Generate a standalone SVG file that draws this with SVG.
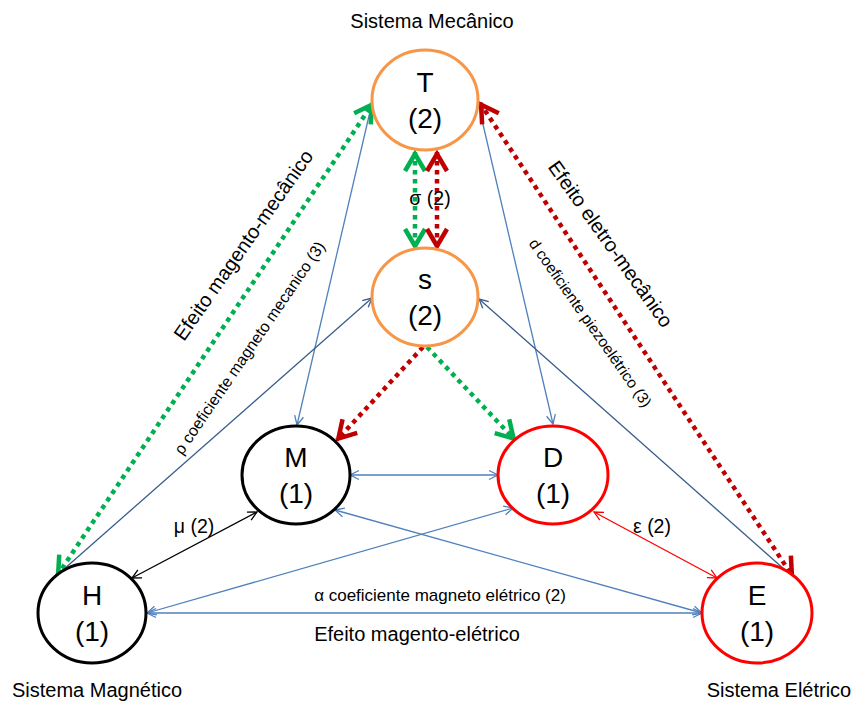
<svg xmlns="http://www.w3.org/2000/svg" width="854" height="701" viewBox="0 0 854 701">
<defs>
<style>
text{font-family:"Liberation Sans",Arial,sans-serif;fill:#000}
.node{fill:#fff;stroke-width:3}
.org{stroke:#F79646}
.blk{stroke:#000}
.red{stroke:#FF0000}
.nl{font-size:28px;text-anchor:middle}
.sys{font-size:20px;text-anchor:middle}
.el{font-size:19.5px;text-anchor:middle}
.thin{fill:none;stroke-width:1.3}
.dot{fill:none;stroke-width:4.5;stroke-dasharray:4.5 4.5}
</style>
<marker id="aB" viewBox="-12 -7 14 14" markerWidth="14" markerHeight="14" refX="0" refY="0" orient="auto-start-reverse" markerUnits="userSpaceOnUse"><path d="M-9,-4.5 L0,0 L-9,4.5" fill="none" stroke="#4F81BD" stroke-width="1.3"/></marker>
<marker id="aD" viewBox="-12 -7 14 14" markerWidth="14" markerHeight="14" refX="0" refY="0" orient="auto-start-reverse" markerUnits="userSpaceOnUse"><path d="M-9,-4.5 L0,0 L-9,4.5" fill="none" stroke="#385D8A" stroke-width="1.3"/></marker>
<marker id="aK" viewBox="-12 -7 14 14" markerWidth="14" markerHeight="14" refX="0" refY="0" orient="auto-start-reverse" markerUnits="userSpaceOnUse"><path d="M-9,-4.5 L0,0 L-9,4.5" fill="none" stroke="#000" stroke-width="1.3"/></marker>
<marker id="aR" viewBox="-12 -7 14 14" markerWidth="14" markerHeight="14" refX="0" refY="0" orient="auto-start-reverse" markerUnits="userSpaceOnUse"><path d="M-9,-4.5 L0,0 L-9,4.5" fill="none" stroke="#FF0000" stroke-width="1.3"/></marker>
<marker id="gG" viewBox="-24 -16 28 32" markerWidth="28" markerHeight="32" refX="0" refY="0" orient="auto-start-reverse" markerUnits="userSpaceOnUse"><path d="M-19,-10 L-2,0 L-19,10" fill="none" stroke="#00B050" stroke-width="4.5" stroke-linejoin="miter" stroke-dasharray="none"/></marker>
<marker id="gR" viewBox="-24 -16 28 32" markerWidth="28" markerHeight="32" refX="0" refY="0" orient="auto-start-reverse" markerUnits="userSpaceOnUse"><path d="M-19,-10 L-2,0 L-19,10" fill="none" stroke="#C00000" stroke-width="4.5" stroke-linejoin="miter" stroke-dasharray="none"/></marker>
</defs>
<rect width="854" height="701" fill="#fff"/>

<g id="connectors">
<line class="thin" stroke="#4F81BD" x1="372" y1="103" x2="297" y2="425" marker-start="url(#aB)" marker-end="url(#aB)"/>
<line class="thin" stroke="#4F81BD" x1="478" y1="103" x2="553" y2="424" marker-start="url(#aB)" marker-end="url(#aB)"/>
<line class="thin" stroke="#385D8A" x1="55" y1="577" x2="372" y2="298" marker-end="url(#aD)"/>
<line class="thin" stroke="#385D8A" x1="793" y1="577" x2="479" y2="299" marker-end="url(#aD)"/>
<line class="thin" stroke="#4F81BD" x1="350" y1="475" x2="498" y2="475" marker-start="url(#aB)" marker-end="url(#aB)"/>
<line class="thin" stroke="#4F81BD" x1="147" y1="613" x2="702" y2="613" marker-start="url(#aB)" marker-end="url(#aB)"/>
<line class="thin" stroke="#4F81BD" x1="147" y1="613" x2="513" y2="508" marker-start="url(#aB)" marker-end="url(#aB)"/>
<line class="thin" stroke="#4F81BD" x1="335" y1="510" x2="702" y2="613" marker-start="url(#aB)" marker-end="url(#aB)"/>
<line class="thin" stroke="#000" x1="132" y1="578" x2="257" y2="512" marker-start="url(#aK)" marker-end="url(#aK)"/>
<line class="thin" stroke="#FF0000" x1="594" y1="512" x2="717" y2="578" marker-start="url(#aR)" marker-end="url(#aR)"/>

<line class="dot" stroke="#00B050" x1="57" y1="576" x2="373" y2="103" marker-start="url(#gG)" marker-end="url(#gG)"/>
<line class="dot" stroke="#C00000" x1="480" y1="103" x2="793" y2="577" marker-start="url(#gR)" marker-end="url(#gR)"/>
<line class="dot" stroke="#00B050" x1="415" y1="152" x2="415" y2="248" marker-start="url(#gG)" marker-end="url(#gG)"/>
<line class="dot" stroke="#C00000" x1="437" y1="152" x2="437" y2="248" marker-start="url(#gR)" marker-end="url(#gR)"/>
<line class="dot" stroke="#C00000" x1="423" y1="347" x2="337" y2="440" marker-end="url(#gR)"/>
<line class="dot" stroke="#00B050" x1="427" y1="347" x2="515" y2="440" marker-end="url(#gG)"/>

<text class="el" x="430" y="205">σ (2)</text>
<text class="el" x="194" y="533">μ (2)</text>
<text class="el" x="652" y="533">ε (2)</text>
<text style="font-size:17px;text-anchor:middle" x="440" y="601">α coeficiente magneto elétrico (2)</text>
<text style="font-size:20px;text-anchor:middle" x="417" y="641">Efeito magento-elétrico</text>
<text style="font-size:20px;text-anchor:middle" transform="translate(249,249) rotate(-55)">Efeito magento-mecânico</text>
<text style="font-size:16px;text-anchor:middle" transform="translate(254,351) rotate(-55.6)">ρ coeficiente magneto mecanico (3)</text>
<text style="font-size:20px;text-anchor:middle" transform="translate(605,248) rotate(54.5)">Efeito eletro-mecânico</text>
<text style="font-size:15.5px;text-anchor:middle" transform="translate(586,326) rotate(55)">d coeficiente piezoelétrico (3)</text>
</g>

<g id="node-T">
<ellipse class="node org" cx="425" cy="100" rx="53" ry="50"/>
<text class="nl" x="425" y="92">T</text>
<text class="nl" x="425" y="128">(2)</text>
</g>
<g id="node-s">
<ellipse class="node org" cx="425" cy="297" rx="53" ry="49"/>
<text class="nl" x="425" y="289">s</text>
<text class="nl" x="425" y="325">(2)</text>
</g>
<g id="node-M">
<ellipse class="node blk" cx="296" cy="475" rx="54" ry="49"/>
<text class="nl" x="296" y="467">M</text>
<text class="nl" x="296" y="503">(1)</text>
</g>
<g id="node-D">
<ellipse class="node red" cx="553" cy="475" rx="55" ry="49"/>
<text class="nl" x="553" y="467">D</text>
<text class="nl" x="553" y="503">(1)</text>
</g>
<g id="node-H">
<ellipse class="node blk" cx="92" cy="613" rx="54" ry="50"/>
<text class="nl" x="92" y="605">H</text>
<text class="nl" x="92" y="641">(1)</text>
</g>
<g id="node-E">
<ellipse class="node red" cx="757" cy="613" rx="55" ry="50"/>
<text class="nl" x="757" y="605">E</text>
<text class="nl" x="757" y="641">(1)</text>
</g>

<g id="system-labels">
<text class="sys" x="432" y="28">Sistema Mecânico</text>
<text class="sys" x="97" y="697">Sistema Magnético</text>
<text class="sys" x="779" y="697">Sistema Elétrico</text>
</g>
</svg>
